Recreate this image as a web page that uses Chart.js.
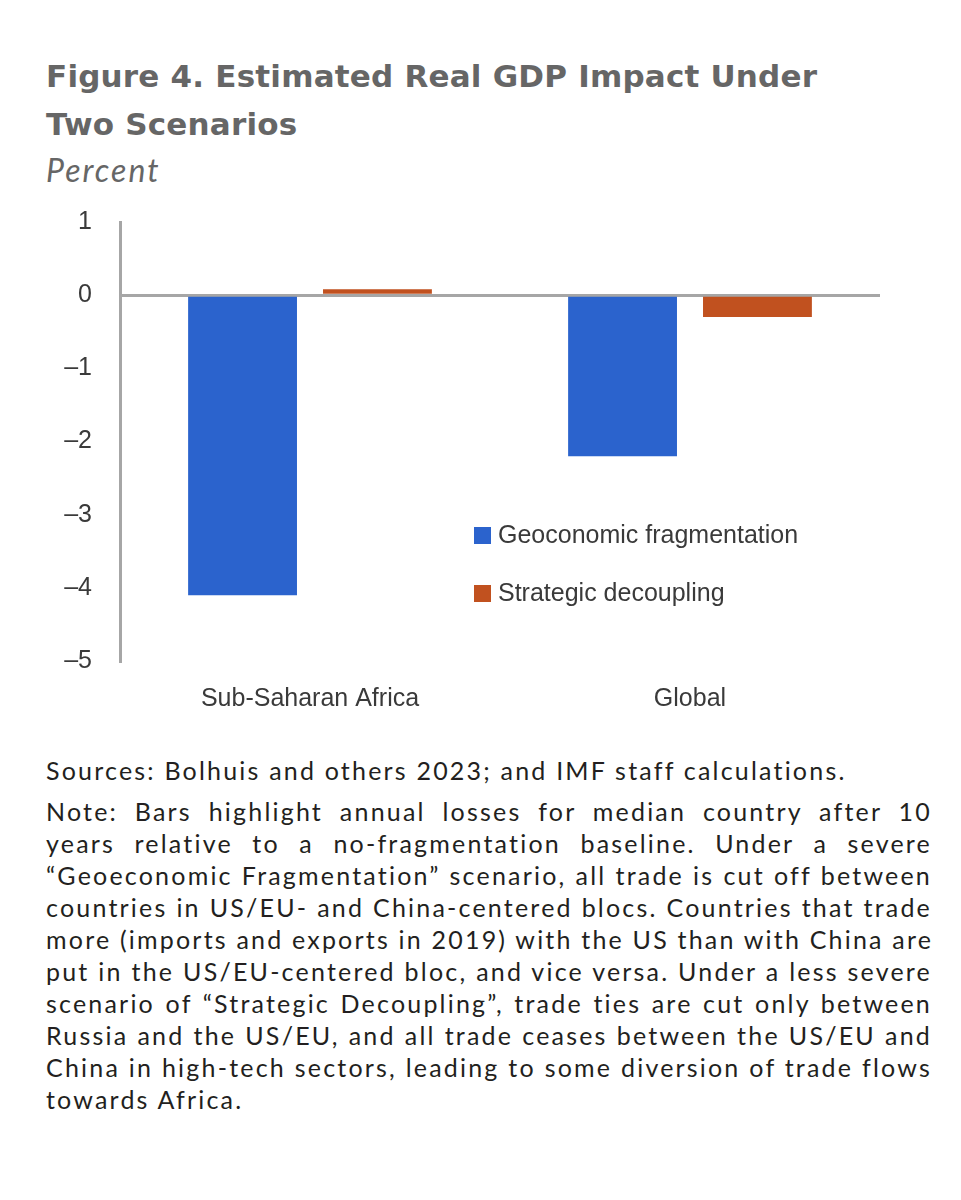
<!DOCTYPE html>
<html>
<head>
<meta charset="utf-8">
<script src="https://cdn.jsdelivr.net/npm/chart.js@4.4.1/dist/chart.umd.min.js"></script>
<style>
  body { margin:0; background:#fff; width:961px; height:1200px; position:relative; overflow:hidden; }
  .title { position:absolute; left:46px; top:52px; font-family:"DejaVu Sans", Lato, sans-serif; font-weight:bold; font-size:31px; line-height:48px; color:#666666; letter-spacing:0.2px; }
  .unit { position:absolute; left:46px; top:150px; font-family:Lato, "Open Sans", sans-serif; font-style:italic; font-size:32px; line-height:40px; color:#666666; letter-spacing:2px; }
  #wrap { position:absolute; left:0; top:179px; width:880px; height:542px; }
  .notes { position:absolute; left:46px; width:886px; font-family:Lato, "Open Sans", sans-serif; font-size:25px; line-height:32px; color:#231f20; letter-spacing:2.2px; }
  .notes div { text-align:justify; text-align-last:justify; white-space:nowrap; }
  .notes div.last { text-align-last:left; }
</style>
</head>
<body>
<div class="title">Figure 4. Estimated Real GDP Impact Under<br>Two Scenarios</div>
<div class="unit">Percent</div>
<div id="wrap"><canvas id="myChart"></canvas></div>
<div class="notes" style="top:754px;"><div class="last">Sources: Bolhuis and others 2023; and IMF staff calculations.</div></div>
<div class="notes" style="top:795px;">
  <div>Note: Bars highlight annual losses for median country after 10</div>
  <div>years relative to a no-fragmentation baseline. Under a severe</div>
  <div>“Geoeconomic Fragmentation” scenario, all trade is cut off between</div>
  <div>countries in US/EU- and China-centered blocs. Countries that trade</div>
  <div>more (imports and exports in 2019) with the US than with China are</div>
  <div>put in the US/EU-centered bloc, and vice versa. Under a less severe</div>
  <div>scenario of “Strategic Decoupling”, trade ties are cut only between</div>
  <div>Russia and the US/EU, and all trade ceases between the US/EU and</div>
  <div>China in high-tech sectors, leading to some diversion of trade flows</div>
  <div class="last">towards Africa.</div>
</div>
<script>
//data
var categories = ["Sub-Saharan Africa", "Global"];
var seriesNames = ["Geoconomic fragmentation", "Strategic decoupling"];
var fragmentation = [-4.1, -2.2];
var decoupling = [0.08, -0.3];
var yTicks = [1, 0, -1, -2, -3, -4, -5];

var blue = "#2b63cd";
var orange = "#c1511f";
var axisGray = "#a6a6a6";
var labelFont = "'Liberation Sans', Arial, sans-serif";

//legend drawn inside the plot, like the original
var insideLegend = {
  id: 'insideLegend',
  afterDraw: function(chart) {
    var ctx = chart.ctx;
    //canvas coords (wrapper starts 179px down the page)
    var spots = [{x: 474, y: 348}, {x: 474, y: 406}];
    ctx.save();
    ctx.font = "25px " + labelFont;
    ctx.textBaseline = "middle";
    chart.data.datasets.forEach(function(ds, i){
      ctx.fillStyle = ds.backgroundColor;
      ctx.fillRect(spots[i].x, spots[i].y, 17, 17);
      ctx.fillStyle = "#3a3a3a";
      ctx.fillText(ds.label, spots[i].x + 24, spots[i].y + 9);
    });
    ctx.restore();
  }
};

var ctx = document.getElementById("myChart");
var myChart = new Chart(ctx, {
  type: 'bar',
  data: {
    labels: categories,
    datasets: [
      { label: seriesNames[0], data: fragmentation, backgroundColor: blue,
        categoryPercentage: 0.71, barPercentage: 0.807 },
      { label: seriesNames[1], data: decoupling, backgroundColor: orange,
        categoryPercentage: 0.71, barPercentage: 0.807 }
    ]
  },
  plugins: [insideLegend],
  options: {
    responsive: true,
    maintainAspectRatio: false,
    animation: false,
    layout: { padding: { top: 0, left: 0, right: 0, bottom: 0 } },
    plugins: {
      legend: { display: false },
      tooltip: { enabled: false }
    },
    scales: {
      x: {
        grid: { display: false, drawTicks: false },
        border: { display: false },
        ticks: { color: "#3a3a3a", padding: 23, font: { family: labelFont, size: 25 } },
        afterFit: function(scale){ scale.height = 60; }
      },
      y: {
        min: -5,
        max: 1,
        afterBuildTicks: function(scale){
          scale.ticks = yTicks.map(function(v){ return {value: v}; });
        },
        ticks: {
          color: "#3a3a3a",
          padding: 28,
          font: { family: labelFont, size: 25 },
          callback: function(value){ return value < 0 ? '\u2013' + Math.abs(value) : '' + value; }
        },
        grid: {
          drawTicks: false,
          lineWidth: 3,
          color: function(c){ return c.tick && c.tick.value === 0 ? axisGray : 'rgba(0,0,0,0)'; }
        },
        border: { display: true, color: axisGray, width: 3 },
        afterFit: function(scale){ scale.width = 120; }
      }
    }
  }
});
</script>
</body>
</html>
